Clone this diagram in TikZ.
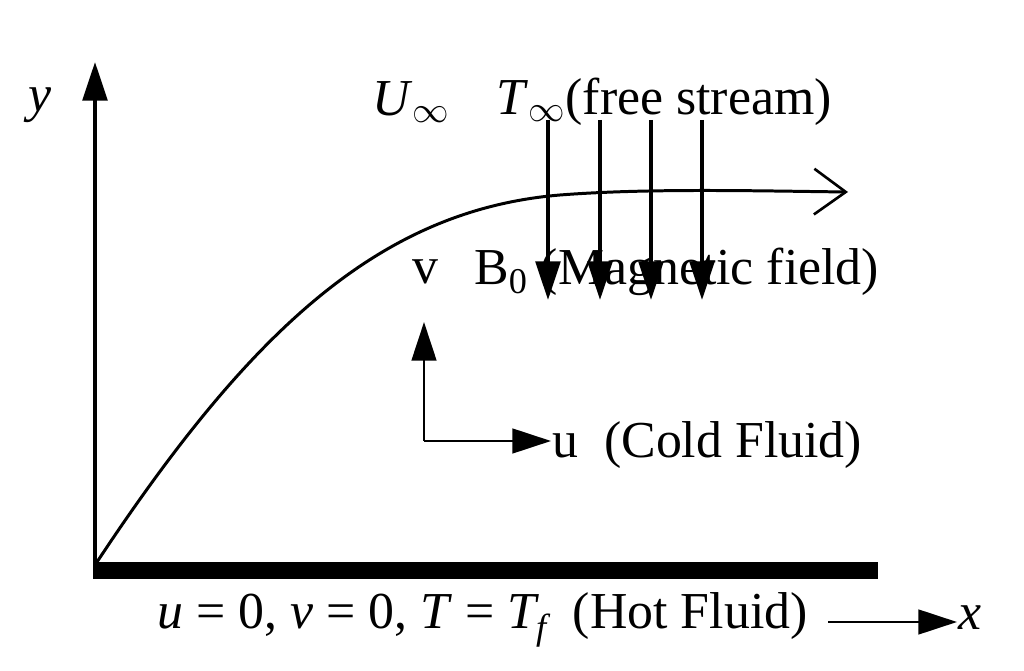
\documentclass[tikz,border=0pt]{standalone}
\usepackage{fontspec}
\setmainfont{Liberation Serif}
\usetikzlibrary{arrows.meta}
\newcommand{\infsub}{\textsubscript{$\infty$}}
\begin{document}
\begin{tikzpicture}[x=0.02cm,y=-0.02cm,
  lbl/.style={font=\fontsize{29.5}{35}\selectfont, inner sep=0pt},
  ar/.style={line width=2.2pt,-{Triangle[length=22pt,width=14pt]}},
  thin ar/.style={line width=1.6pt,-{Triangle[length=22pt,width=14pt]}}]
\useasboundingbox (0,0) rectangle (1024,671);
\coordinate (O) at (95,565);
\coordinate (ytop) at (95,62);
\draw[ar] (O) -- (ytop);
\node[lbl] (ylab) at (40,105) {\textit{y}};
\fill (93,562) rectangle (878,579);
\coordinate (cend) at (848,192);
\draw[line width=1.7pt,-{Straight Barb[length=18pt,width=26pt,line width=1.5pt]}]
  (O) .. controls (250,330) and (380,210) .. (560,195) .. controls (650,188) and (760,191) .. (cend);
\node[lbl,anchor=west] (U) at (372,102) {\textit{U}\infsub};
\node[lbl,anchor=west] (T) at (496,102) {\textit{T}\infsub(free stream)};
\foreach \i/\xx in {1/548,2/600,3/651,4/702}{
  \coordinate (a\i) at (\xx,120); \coordinate (b\i) at (\xx,300);
  \draw[ar] (a\i) -- (b\i);}
\node[lbl,anchor=west] (v) at (412,272) {v};
\node[lbl,anchor=west] (B) at (474,272) {B\textsubscript{0} (Magnetic field)};
\coordinate (o2) at (424,441);
\coordinate (o2up) at (424,322);
\coordinate (o2r) at (551,441);
\draw[thin ar] (o2) -- (o2up);
\draw[thin ar] (o2) -- (o2r);
\node[lbl,anchor=west] (u) at (552,445) {u\ \ (Cold Fluid)};
\node[lbl,anchor=west] (bc) at (157,620) {\textit{u} = 0, \textit{v} = 0, \textit{T} = \textit{T\textsubscript{f}}\ \ (Hot Fluid)};
\coordinate (xa) at (828,622); \coordinate (xb) at (957,622);
\draw[thin ar] (xa) -- (xb);
\node[lbl,anchor=west] (xl) at (958,618) {\textit{x}};
\end{tikzpicture}
\end{document}
